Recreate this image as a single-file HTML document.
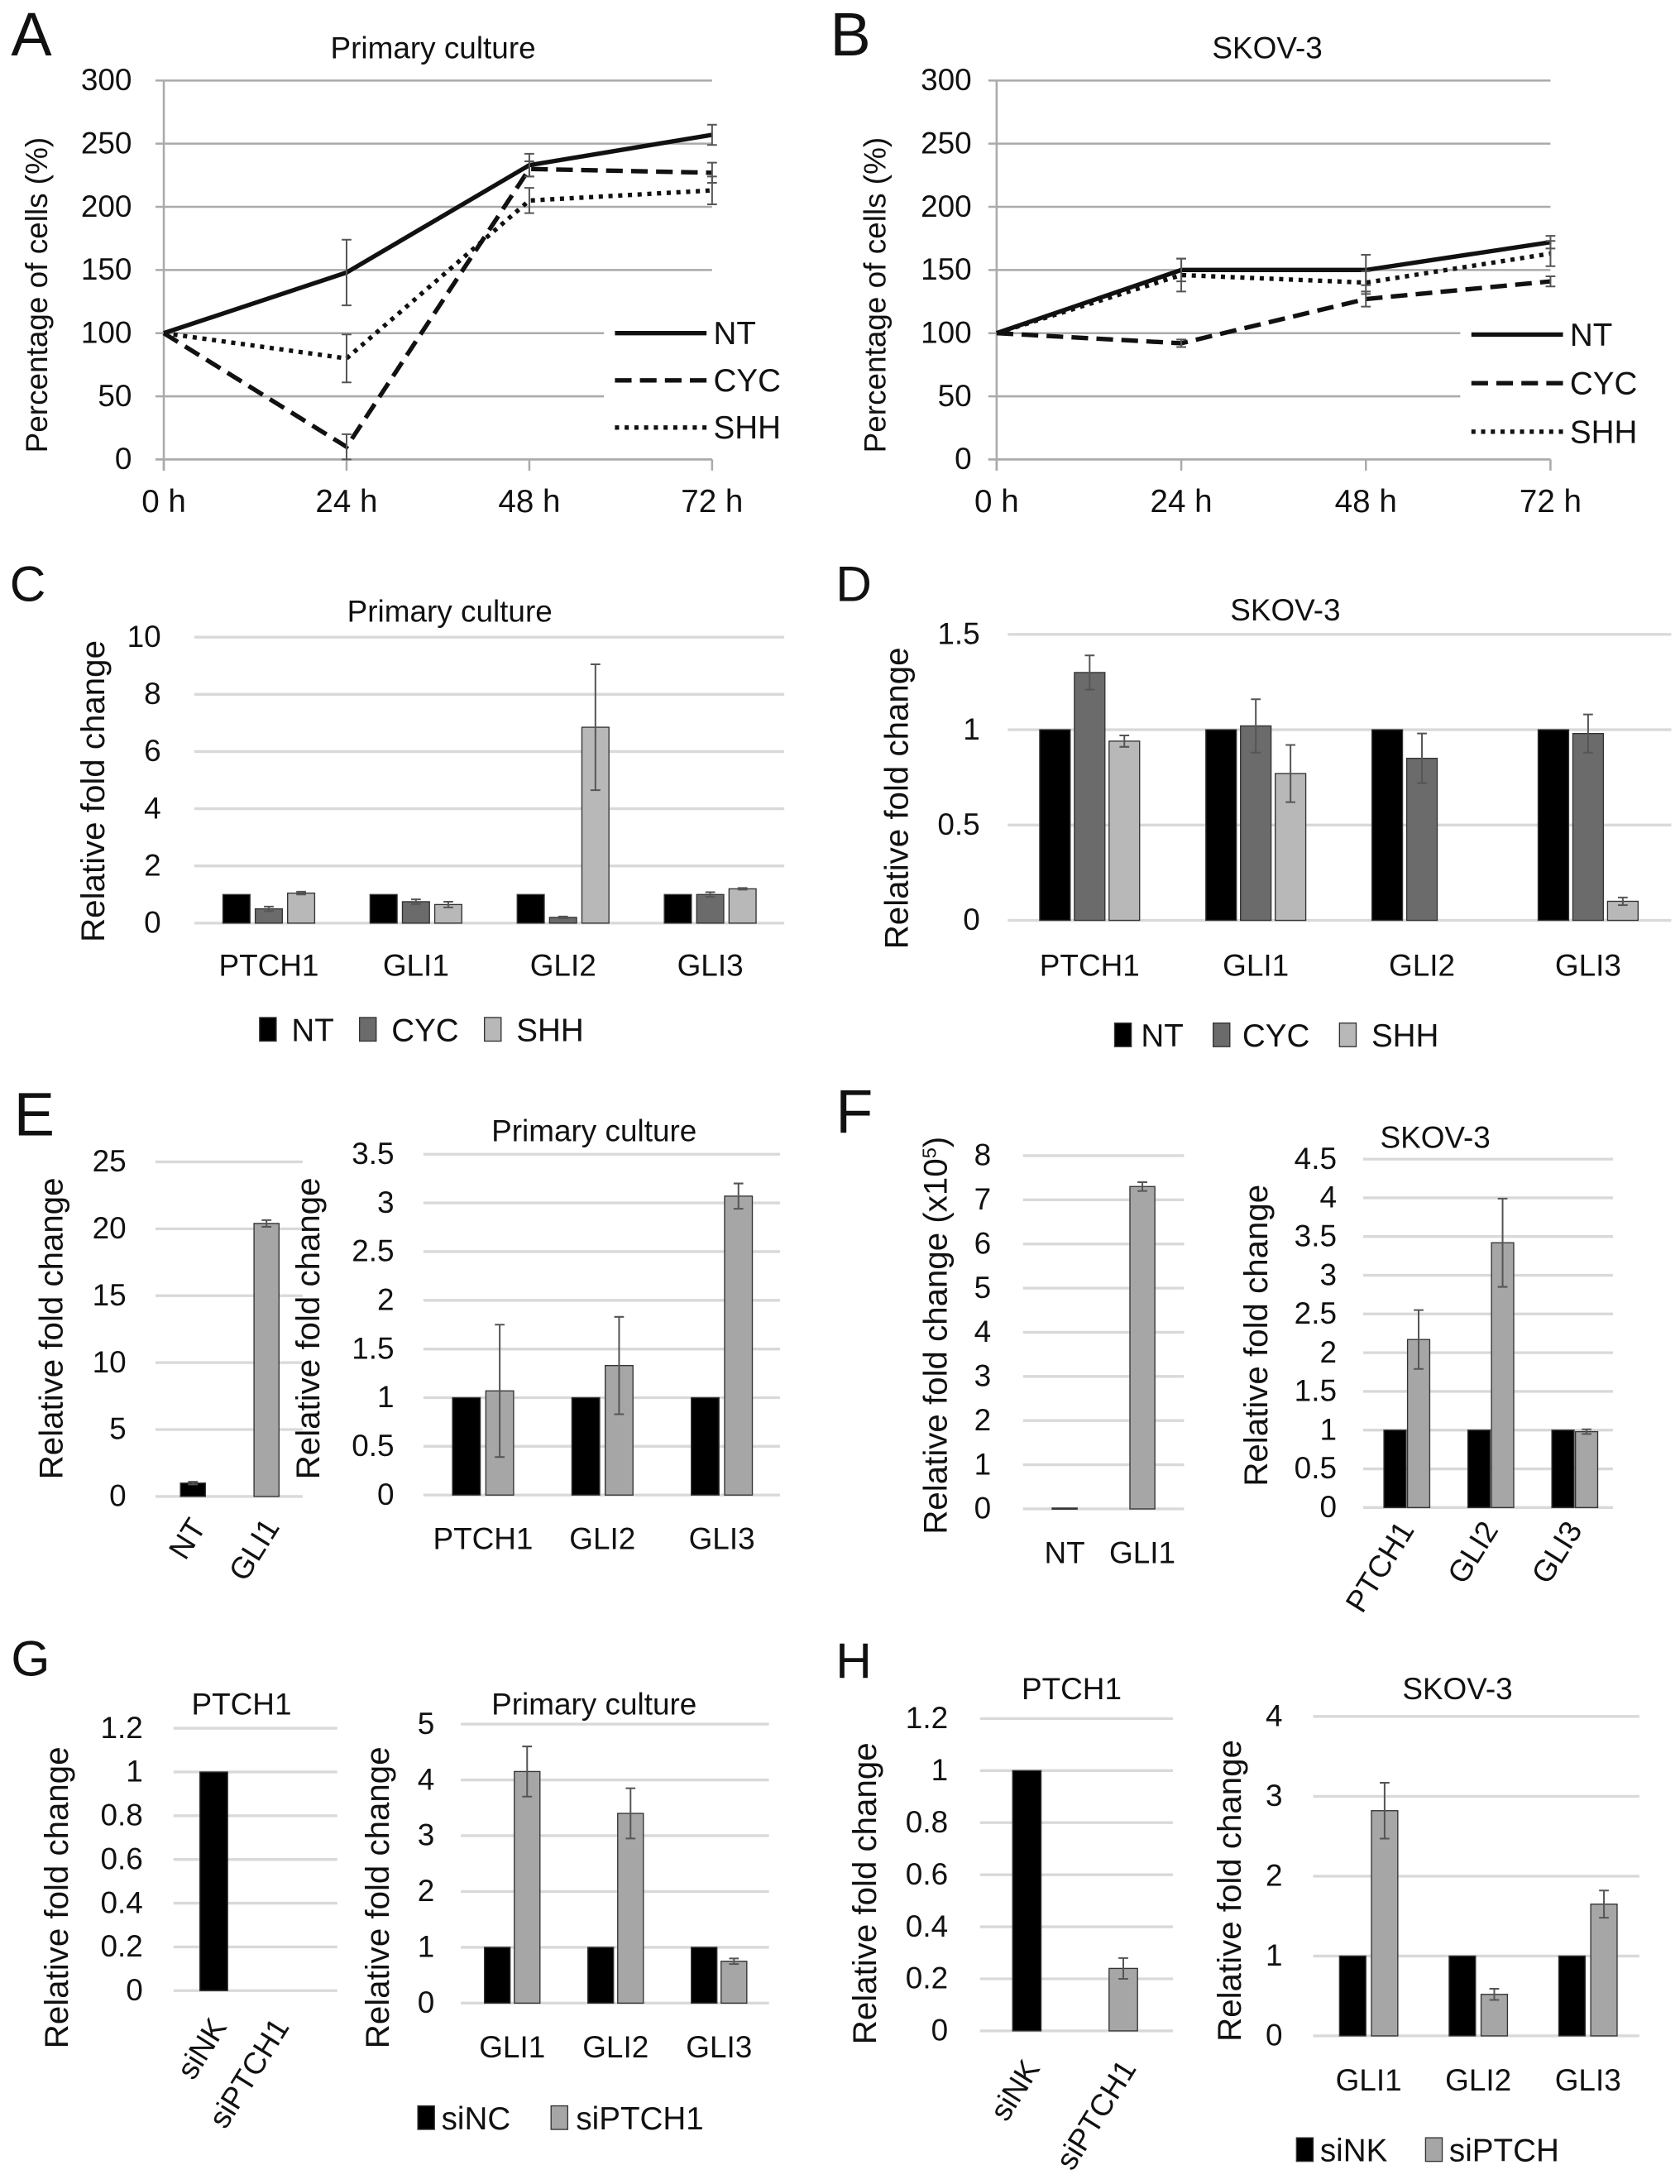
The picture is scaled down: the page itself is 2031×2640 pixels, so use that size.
<!DOCTYPE html>
<html><head><meta charset="utf-8">
<style>
html,body{margin:0;padding:0;background:#fff;}
svg{display:block;font-family:"Liberation Sans",Arial,sans-serif;}
</style></head>
<body>
<svg id="fig" xmlns="http://www.w3.org/2000/svg" width="2031" height="2640" viewBox="0 0 1210.3 1573.3" preserveAspectRatio="none">
<rect x="0" y="0" width="1210.3" height="1573.3" fill="#fff"/>
</svg>
<script>
// ---------- DATA ----------
const timeCats = ["0 h","24 h","48 h","72 h"];
const lineTicks = ["0","50","100","150","200","250","300"];
const aNT = [100,148,233,257];
const aCYC = [100,10,230,227];
const aSHH = [100,80,205,213];
const aNTerr = [0,26,9,8];
const aCYCerr = [0,10,6,8];
const aSHHerr = [0,19,10,11];
const bNT = [100,150,150,172];
const bCYC = [100,92,127,141];
const bSHH = [100,146,140,163];
const bNTerr = [0,9,12,5];
const bCYCerr = [0,3,6,4];
const bSHHerr = [0,13,9,10];

const cdCats = ["PTCH1","GLI1","GLI2","GLI3"];
const cTicks = ["0","2","4","6","8","10"];
const cNT = [1,1,1,1];
const cCYC = [0.5,0.75,0.2,1.0];
const cSHH = [1.05,0.65,6.85,1.2];
const cNTerr = [0,0,0,0];
const cCYCerr = [0.08,0.08,0.03,0.08];
const cSHHerr = [0.05,0.1,2.2,0.03];
const dTicks = ["0","0.5","1","1.5"];
const dNT = [1,1,1,1];
const dCYC = [1.3,1.02,0.85,0.98];
const dSHH = [0.94,0.77,0,0.1];
const dNTerr = [0,0,0,0];
const dCYCerr = [0.09,0.14,0.13,0.1];
const dSHHerr = [0.03,0.15,0,0.02];

const eLCats = ["NT","GLI1"];
const eLTicks = ["0","5","10","15","20","25"];
const eLVals = [1,20.4];
const eLErr = [0.1,0.25];
const eRCats = ["PTCH1","GLI2","GLI3"];
const eRTicks = ["0","0.5","1","1.5","2","2.5","3","3.5"];
const eRNT = [1,1,1];
const eRGLI1 = [1.07,1.33,3.07];
const eRNTerr = [0,0,0];
const eRGLI1err = [0.68,0.5,0.13];

const fLCats = ["NT","GLI1"];
const fLTicks = ["0","1","2","3","4","5","6","7","8"];
const fLVals = [0.02,7.3];
const fLErr = [0,0.1];
const fRCats = ["PTCH1","GLI2","GLI3"];
const fRTicks = ["0","0.5","1","1.5","2","2.5","3","3.5","4","4.5"];
const fRNT = [1,1,1];
const fRGLI1 = [2.17,3.42,0.98];
const fRNTerr = [0,0,0];
const fRGLI1err = [0.38,0.57,0.03];

const gLCats = ["siNK","siPTCH1"];
const gLTicks = ["0","0.2","0.4","0.6","0.8","1","1.2"];
const gLVals = [1,0];
const gLErr = [0,0];
const gRCats = ["GLI1","GLI2","GLI3"];
const gRTicks = ["0","1","2","3","4","5"];
const gRNC = [1,1,1];
const gRSI = [4.15,3.4,0.75];
const gRNCerr = [0,0,0];
const gRSIerr = [0.45,0.45,0.05];

const hLCats = ["siNK","siPTCH1"];
const hLTicks = ["0","0.2","0.4","0.6","0.8","1","1.2"];
const hLVals = [1,0.24];
const hLErr = [0,0.04];
const hRCats = ["GLI1","GLI2","GLI3"];
const hRTicks = ["0","1","2","3","4"];
const hRNK = [1,1,1];
const hRSI = [2.82,0.52,1.65];
const hRNKerr = [0,0,0];
const hRSIerr = [0.35,0.07,0.17];

// ---------- HELPERS ----------
const NS = "http://www.w3.org/2000/svg";
const root = document.getElementById('fig');
function mk(tag, attrs, parent){
  const e = document.createElementNS(NS, tag);
  for (const k in attrs) e.setAttribute(k, attrs[k]);
  (parent||root).appendChild(e);
  return e;
}
function txt(s, x, y, size, anchor, parent, extra){
  const a = {x:x, y:y, 'font-size':size, 'text-anchor':anchor||'middle', fill:'#111'};
  if (extra) for (const k in extra) a[k]=extra[k];
  const t = mk('text', a, parent);
  t.textContent = s;
  return t;
}
function group(name){
  const g = mk('g', {});
  
  
  return g;
}
function errbar(g, x, yv, ye, yScale, name){
  if (ye<=0) return;
  const l = mk('path', {d:`M${x} ${yScale(yv+ye)}V${yScale(yv-ye)}M${x-3.5} ${yScale(yv+ye)}h7M${x-3.5} ${yScale(yv-ye)}h7`, stroke:'#555', 'stroke-width':1.2, fill:'none'}, g);
  
  
}

// panel letters
[["A",8,40,44],["B",598,40,44],["C",7,433,36],["D",602,433,36],["E",10,818,44],["F",602,816,44],["G",8,1207,36],["H",602,1209,36]].forEach(p=>{
  const t = txt(p[0], p[1], p[2], p[3], 'start');
  
  
});

// ---------- LINE CHART ----------
function lineChart(cfg, series, errs, names){
  const g = group(cfg.name);
  const xS = i => cfg.x0 + i*(cfg.x1-cfg.x0)/(timeCats.length-1);
  const yS = v => cfg.yB - v/300*(cfg.yB-cfg.yT);
  lineTicks.forEach(t=>{
    const v = parseFloat(t);
    const gl = mk('line', {x1:cfg.x0-6, x2:cfg.x1, y1:yS(v), y2:yS(v), stroke:'#aaa', 'stroke-width':1.5}, g);
    
    
    const tl = txt(t, cfg.labX, yS(v)+7, 22, 'end', g);
    
    
  });
  mk('rect', {x:cfg.legX-8, y:cfg.legY-22, width:cfg.x1-cfg.legX+80, height:95, fill:'#fff'}, g);
  const ax = mk('line', {x1:cfg.x0, x2:cfg.x0, y1:cfg.yT, y2:cfg.yB+8, stroke:'#aaa', 'stroke-width':1.5}, g);
  
  
  const xa = mk('line', {x1:cfg.x0-6, x2:cfg.x1, y1:cfg.yB, y2:cfg.yB, stroke:'#aaa', 'stroke-width':1.5}, g);
  
  
  timeCats.forEach((c,i)=>{
    const tk = mk('line', {x1:xS(i), x2:xS(i), y1:cfg.yB, y2:cfg.yB+8, stroke:'#aaa','stroke-width':1.5}, g);
    
    
    const t = txt(c, xS(i), 369, 23, 'middle', g);
    
    
  });
  const dashes = ['none','12,6','3,4'];
  series.forEach((s,si)=>{
    const d = s.map((v,i)=>(i?'L':'M')+xS(i)+' '+yS(v)).join('');
    const p = mk('path', {d:d, stroke:'#111', 'stroke-width':3.2, fill:'none', 'stroke-dasharray':dashes[si]}, g);
    
    
    s.forEach((v,i)=>errbar(g, xS(i), v, errs[si][i], yS, 'error-bar'));
    const ly = cfg.legY + si*cfg.legStep;
    const ll = mk('line', {x1:cfg.legX, x2:cfg.legX+66, y1:ly, y2:ly, stroke:'#111','stroke-width':3.2,'stroke-dasharray':dashes[si]}, g);
    
    
    const lt = txt(names[si], cfg.legX+71, ly+8, 23, 'start', g);
    
    
  });
  const tt = txt(cfg.title, cfg.titleX, 42, 22, 'middle', g);
  
  
  const yt = txt("Percentage of cells (%)", 0, 0, 22, 'middle', g, {transform:`translate(${cfg.ytX},${(cfg.yT+cfg.yB)/2+18}) rotate(-90)`});
  
  
}
lineChart({name:'chart-a', x0:118, x1:513, yB:331, yT:58, labX:95, legX:443, legY:240, legStep:34, title:'Primary culture', titleX:312, ytX:34},
  [aNT,aCYC,aSHH],[aNTerr,aCYCerr,aSHHerr],["NT","CYC","SHH"]);
lineChart({name:'chart-b', x0:718, x1:1117, yB:331, yT:58, labX:700, legX:1060, legY:241, legStep:35, title:'SKOV-3', titleX:913, ytX:638},
  [bNT,bCYC,bSHH],[bNTerr,bCYCerr,bSHHerr],["NT","CYC","SHH"]);

// ---------- BAR CHART ----------
function barChart(cfg, cats, ticks, series, errs, colors){
  const g = group(cfg.name);
  const yS = v => cfg.yBot - v/cfg.max*(cfg.yBot-cfg.yTop);
  ticks.forEach(t=>{
    const v = parseFloat(t);
    const gl = mk('line', {x1:cfg.gx0, x2:cfg.gx1, y1:yS(v), y2:yS(v), stroke:'#d9d9d9','stroke-width':2}, g);
    
    
    const tl = txt(t, cfg.labX, yS(v)+7, 22, 'end', g);
    
    
  });
  const ns = series.length;
  cats.forEach((c,ci)=>{
    const gx = cfg.firstBar + ci*cfg.pitch;
    series.forEach((s,si)=>{
      const x = gx + si*(cfg.sStep||0);
      const v = s[ci];
      const col = cfg.perCat ? colors[ci] : colors[si];
      if (v>0){
        const r = mk('rect', {x:x, y:yS(v), width:cfg.barW, height:Math.max(0.8,yS(0)-yS(v)), fill:col, stroke:'#333','stroke-width':0.8}, g);
        
        
      }
      errbar(g, x+cfg.barW/2, v, errs[si][ci], yS, 'error-bar');
    });
    const cx = gx + ((ns-1)*(cfg.sStep||0) + cfg.barW)/2;
    let t;
    if (cfg.rot){
      t = txt(c, 0, 0, 22, 'end', g, {transform:`translate(${cx+cfg.rotDx},${cfg.catY}) rotate(-58)`});
    } else {
      t = txt(c, cx, cfg.catY, 22, 'middle', g);
    }
    
    
  });
  if (cfg.title){
    const tt = txt(cfg.title, cfg.titleX, cfg.titleY, 22, 'middle', g);
    
    
  }
  const yt = txt(cfg.yTitle||"Relative fold change", 0, 0, 24, 'middle', g, {transform:`translate(${cfg.ytX},${cfg.ytY}) rotate(-90)`});
  
  
  if (cfg.yTitleSup){
    const sp = mk('tspan', {'baseline-shift':'super','font-size':14}, yt);
    sp.textContent = cfg.yTitleSup;
    const sp2 = mk('tspan', {}, yt);
    sp2.textContent = ")";
  }
  return g;
}
function legend(items, y){
  const g = group('legend');
  items.forEach(it=>{
    const r = mk('rect', {x:it[0], y:y-9, width:12, height:17, fill:it[2], stroke:'#333','stroke-width':0.8}, g);
    
    
    const t = txt(it[3], it[1], y+8, 23, 'start', g);
    
    
  });
}
const BLK='#000', DG='#6b6b6b', LG='#b8b8b8', MG='#a6a6a6';

barChart({name:'chart-c', gx0:140, gx1:565, yBot:665, yTop:459, max:10, labX:116, firstBar:160.6, barW:19.5, sStep:23.3, pitch:106, catY:703, title:'Primary culture', titleX:324, titleY:448, ytX:75, ytY:570},
  cdCats, cTicks, [cNT,cCYC,cSHH], [cNTerr,cCYCerr,cSHHerr], [BLK,DG,LG]);
legend([[187,210,BLK,'NT'],[259,282,DG,'CYC'],[349,372,LG,'SHH']], 742);

barChart({name:'chart-d', gx0:726, gx1:1204, yBot:663, yTop:457, max:1.5, labX:706, firstBar:749, barW:22, sStep:25, pitch:119.7, catY:703, title:'SKOV-3', titleX:926, titleY:447, ytX:654, ytY:575},
  cdCats, dTicks, [dNT,dCYC,dSHH], [dNTerr,dCYCerr,dSHHerr], [BLK,DG,LG]);
legend([[803,822,BLK,'NT'],[874,895,DG,'CYC'],[965,988,LG,'SHH']], 746);

barChart({name:'chart-e-gli1', gx0:112, gx1:218, yBot:1078, yTop:837, max:25, labX:91, firstBar:130, barW:18, pitch:53, perCat:true, rot:true, rotDx:10, catY:1100, ytX:45, ytY:957},
  eLCats, eLTicks, [eLVals], [eLErr], [BLK,MG]);
barChart({name:'chart-e-targets', gx0:305, gx1:562, yBot:1077, yTop:831.5, max:3.5, labX:284, firstBar:326, barW:20, sStep:24, pitch:86, catY:1116, title:'Primary culture', titleX:428, titleY:822, ytX:230, ytY:957},
  eRCats, eRTicks, [eRNT,eRGLI1], [eRNTerr,eRGLI1err], [BLK,MG]);

barChart({name:'chart-f-gli1', gx0:737, gx1:853, yBot:1087, yTop:832.5, max:8, labX:714, firstBar:758, barW:18, pitch:56, perCat:true, catY:1126, ytX:682, ytY:962, yTitle:'Relative fold change (x10', yTitleSup:'5'},
  fLCats, fLTicks, [fLVals], [fLErr], [BLK,MG]);
barChart({name:'chart-f-targets', gx0:982, gx1:1162, yBot:1086, yTop:835, max:4.5, labX:963, firstBar:997, barW:16, sStep:17, pitch:60.5, rot:true, rotDx:6, catY:1102, title:'SKOV-3', titleX:1034, titleY:827, ytX:913, ytY:962},
  fRCats, fRTicks, [fRNT,fRGLI1], [fRNTerr,fRGLI1err], [BLK,MG]);

barChart({name:'chart-g-ptch1', gx0:125, gx1:243, yBot:1434, yTop:1245, max:1.2, labX:103, firstBar:144, barW:20, pitch:45, perCat:true, rot:true, rotDx:10, catY:1460, title:'PTCH1', titleX:174, titleY:1235, ytX:49, ytY:1367},
  gLCats, gLTicks, [gLVals], [gLErr], [BLK,MG]);
barChart({name:'chart-g-targets', gx0:332, gx1:554, yBot:1443, yTop:1242, max:5, labX:313, firstBar:349, barW:18.5, sStep:21.5, pitch:74.5, catY:1482, title:'Primary culture', titleX:428, titleY:1235, ytX:280, ytY:1367},
  gRCats, gRTicks, [gRNC,gRSI], [gRNCerr,gRSIerr], [BLK,MG]);
legend([[301,318,BLK,'siNC'],[397,415,MG,'siPTCH1']], 1526);

barChart({name:'chart-h-ptch1', gx0:706, gx1:845, yBot:1463, yTop:1238, max:1.2, labX:683, firstBar:729.5, barW:20.5, pitch:69.5, perCat:true, rot:true, rotDx:10, catY:1490, title:'PTCH1', titleX:772, titleY:1224, ytX:631, ytY:1364},
  hLCats, hLTicks, [hLVals], [hLErr], [BLK,MG]);
barChart({name:'chart-h-targets', gx0:946, gx1:1181, yBot:1466.6, yTop:1236.5, max:4, labX:924, firstBar:965, barW:19, sStep:23, pitch:79, catY:1506, title:'SKOV-3', titleX:1050, titleY:1224, ytX:894, ytY:1362},
  hRCats, hRTicks, [hRNK,hRSI], [hRNKerr,hRSIerr], [BLK,MG]);
legend([[934,951,BLK,'siNK'],[1027,1044,MG,'siPTCH']], 1549);
</script>
</body></html>
